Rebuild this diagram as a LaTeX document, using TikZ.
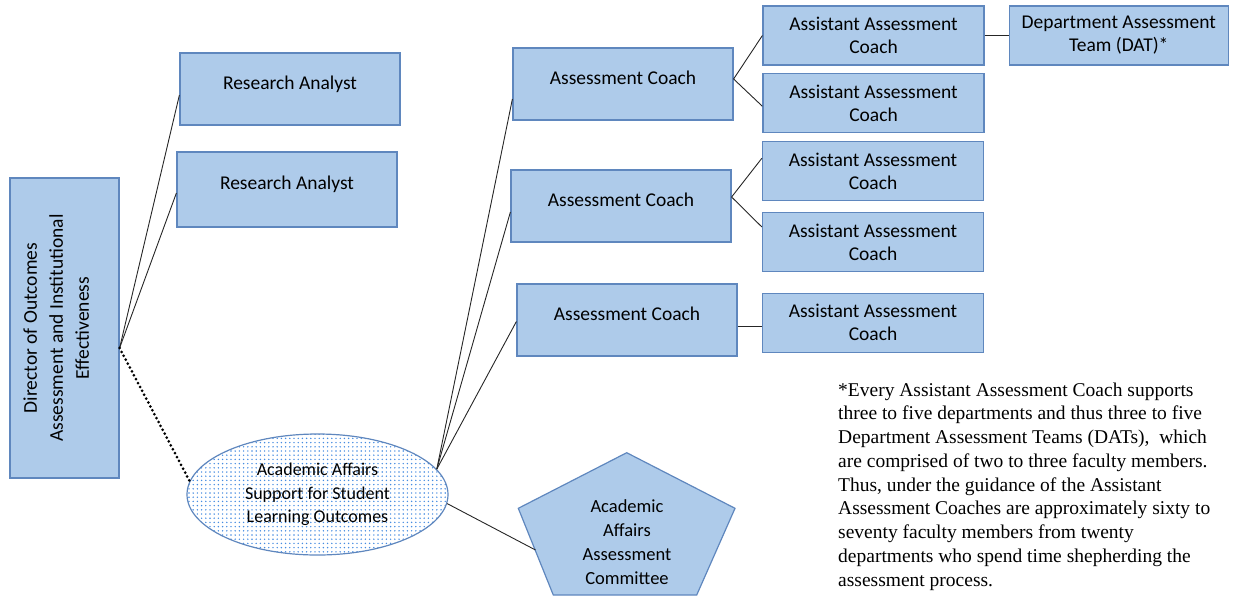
\documentclass[tikz,border=0pt]{standalone}
\usepackage{fontspec}
\setmainfont{Carlito}
\newfontfamily\notefont{Liberation Serif}
\usetikzlibrary{positioning, shapes.geometric, patterns.meta}

\definecolor{boxfill}{RGB}{174,203,234}
\definecolor{boxline}{RGB}{95,135,190}
\definecolor{dotblue}{RGB}{70,140,225}

\begin{document}
\begin{tikzpicture}[
    x=1pt, y=-1pt,
    % Styles for the boxes and lines
    block/.style={rectangle, draw=boxline, fill=boxfill, line width=1.2pt, inner sep=4pt, align=center, font=\fontsize{19.5}{23}\selectfont},
    headblock/.style={ % one line of text, sitting in the upper half
        block,
        minimum width=220pt,
        minimum height=72pt,
        text height=14pt,
        text depth=14pt
    },
    helperblock/.style={block, minimum width=221pt, minimum height=59pt},
    node distance=24pt and 24pt, % gap between helper box and team box
    line/.style={draw=black!85, line width=0.9pt},
    dotline/.style={draw=black, line width=3pt, line cap=round, dash pattern=on 0pt off 4.4pt},
    supportoval/.style={ % dotted oval for the support office
        ellipse,
        draw=boxline,
        line width=1.2pt,
        pattern={Dots[radius=0.8pt, distance=4.2pt]},
        pattern color=dotblue,
        minimum width=261pt,
        minimum height=121pt,
        align=center,
        font=\fontsize{18}{23.5}\selectfont
    },
    pentagon/.style={draw=boxline, fill=boxfill, line width=1.2pt}
]

\useasboundingbox (0,0) rectangle (1233,598);

% Director and analysts
\node [block, minimum width=109pt, minimum height=300pt] (director) at (64.5,328)
    {\rotatebox{90}{\parbox[c][82pt][t]{250pt}{\centering\fontsize{19.5}{26}\selectfont Director of Outcomes\\ Assessment and Institutional\\ Effectiveness}}};
\node [headblock] (analystA) at (290,89) {Research Analyst};
\node [headblock, minimum height=75pt] (analystB) at (287,189.5) {Research Analyst};

% Support office and committee
\node [supportoval] (support) at (317.5,494.5) {Academic Affairs\\ Support for Student\\ Learning Outcomes};
\draw [pentagon] (626.7,452.7) -- (735,508.3) -- (696.7,595) -- (553.3,595) -- (518.3,508.3) -- cycle;
\node [align=center, font=\fontsize{18.5}{23.8}\selectfont] (committee) at (627,542) {Academic\\ Affairs\\ Assessment\\ Committee};
\coordinate (committeeedge) at (535.5,550);

% Coaches
\node [headblock] (coachA) at (623,84) {Assessment Coach};
\node [headblock] (coachB) at (621,206) {Assessment Coach};
\node [headblock] (coachC) at (627,320) {Assessment Coach};

% Assistant coaches
\node [helperblock] (aacA) at (873.5,35.5) {Assistant Assessment\\ Coach};
\node [helperblock] (aacB) at (873.5,103.3) {Assistant Assessment\\ Coach};
\node [helperblock] (aacC) at (873,171.2) {Assistant Assessment\\ Coach};
\node [helperblock] (aacD) at (873,242) {Assistant Assessment\\ Coach};
\node [helperblock] (aacE) at (873,322.8) {Assistant Assessment\\ Coach};
\node [block, minimum width=219pt, minimum height=59pt, right=of aacA] (dat) {Department Assessment\\ Team (DAT)*};

% Note beside the chart
\node [anchor=north west, align=left, inner sep=0pt, font=\notefont\fontsize{19.5}{23.75}\selectfont] (note) at (838,382.5)
    {*Every Assistant Assessment Coach supports\\
     three to five departments and thus three to five\\
     Department Assessment Teams (DATs),\ \ which\\
     are comprised of two to three faculty members.\\
     Thus, under the guidance of the Assistant\\
     Assessment Coaches are approximately sixty to\\
     seventy faculty members from twenty\\
     departments who spend time shepherding the\\
     assessment process.};

% Hubs where the lines fan out
\coordinate (dirhub) at ([yshift=-20pt]director.east);
\coordinate (supporthub) at (support.12);
\coordinate (coachAhub) at ([yshift=5pt]coachA.east);
\coordinate (coachBhub) at ([yshift=9pt]coachB.east);

% Connectors
\path [line] (dirhub) -- ([yshift=-6pt]analystA.west);
\path [line] (dirhub) -- ([yshift=-3.5pt]analystB.west);
\path [dotline] (dirhub) -- (support.174);
\path [line] (supporthub) -- ([yshift=-15pt]coachA.west);
\path [line] (supporthub) -- ([yshift=-6pt]coachB.west);
\path [line] (supporthub) -- ([yshift=-1.5pt]coachC.west);
\path [line] (support.-4) -- (committeeedge);
\path [line] (coachAhub) -- (aacA.west);
\path [line] (coachAhub) -- ([yshift=-3pt]aacB.west);
\path [line] (coachBhub) -- ([yshift=13pt]aacC.west);
\path [line] (coachBhub) -- ([yshift=15pt]aacD.west);
\path [line] ([yshift=-6.8pt]coachC.east) -- ([yshift=-4pt]aacE.west);
\path [line] (aacA) -- (dat);

\end{tikzpicture}
\end{document}
